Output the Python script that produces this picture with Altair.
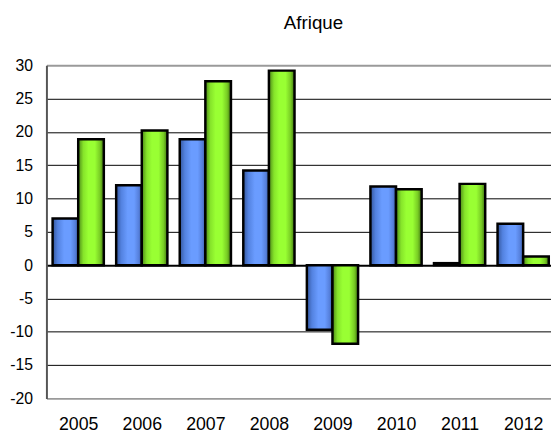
import altair as alt
import pandas as pd

years = [2005, 2006, 2007, 2008, 2009, 2010, 2011, 2012]
blue_vals = [7.0, 12.0, 18.9, 14.2, -9.7, 11.8, 0.3, 6.2]
green_vals = [18.9, 20.2, 27.6, 29.2, -11.8, 11.4, 12.2, 1.3]
y_ticks = [-20, -15, -10, -5, 0, 5, 10, 15, 20, 25, 30]

rows = []
for y, b, g in zip(years, blue_vals, green_vals):
    rows.append({"year": y, "series": "A", "value": b})
    rows.append({"year": y, "series": "B", "value": g})
df = pd.DataFrame(rows)

FONT = "Liberation Sans, Arial"
BAR_W = 0.403  # fraction of the year step taken by one bar

blue_grad = alt.LinearGradient(
    gradient="linear", x1=0, x2=1, y1=0, y2=0,
    stops=[
        alt.GradientStop(color="#34569c", offset=0),
        alt.GradientStop(color="#5382e0", offset=0.2),
        alt.GradientStop(color="#6a9cff", offset=0.45),
        alt.GradientStop(color="#6a9cff", offset=0.7),
        alt.GradientStop(color="#5680dc", offset=0.88),
        alt.GradientStop(color="#3a5ca4", offset=1),
    ],
)
green_grad = alt.LinearGradient(
    gradient="linear", x1=0, x2=1, y1=0, y2=0,
    stops=[
        alt.GradientStop(color="#4c8818", offset=0),
        alt.GradientStop(color="#86e42a", offset=0.2),
        alt.GradientStop(color="#99ff33", offset=0.4),
        alt.GradientStop(color="#99ff33", offset=0.65),
        alt.GradientStop(color="#78cc24", offset=0.85),
        alt.GradientStop(color="#3f7410", offset=1),
    ],
)

x_enc = alt.X(
    "x0:Q", title=None,
    scale=alt.Scale(domain=[2004.5, 2004.5 + 512 / 64.5], nice=False, zero=False, padding=0),
    axis=alt.Axis(values=years, format="d", domain=False, ticks=False, grid=False,
                  labelPadding=18, labelFont=FONT, labelFontSize=18,
                  labelColor="black", labelFlush=False),
)
y_enc = alt.Y(
    "value:Q", title=None,
    scale=alt.Scale(domain=[-20, 30], nice=False, zero=False, padding=0),
    axis=alt.Axis(
        values=y_ticks, ticks=False, labelPadding=14,
        labelExpr="'' + datum.value",
        labelFont=FONT, labelFontSize=16, labelColor="black",
        domainColor="#555555", domainWidth=2,
        gridColor={"condition": {"test": "datum.value == 30 || datum.value == -20", "value": "#9a9a9a"}, "value": "black"},
        gridWidth={"condition": {"test": "datum.value == 0 || datum.value == 30 || datum.value == -20", "value": 2}, "value": 1},
    ),
)

base = alt.Chart(df)
blue = base.transform_filter("datum.series == 'A'").transform_calculate(
    x0=f"datum.year - {BAR_W}", x1="datum.year"
).mark_bar(fill=blue_grad, stroke="black", strokeWidth=2.5, orient="vertical").encode(
    x=x_enc, x2="x1:Q", y=y_enc, y2=alt.datum(0)
)
green = base.transform_filter("datum.series == 'B'").transform_calculate(
    x0="datum.year", x1=f"datum.year + {BAR_W}"
).mark_bar(fill=green_grad, stroke="black", strokeWidth=2.5, orient="vertical").encode(
    x=x_enc, x2="x1:Q", y=y_enc, y2=alt.datum(0)
)

chart = alt.layer(blue, green).properties(
    width=512, height=338,
    autosize=alt.AutoSizeParams(type="none"),
    padding={"left": 39, "top": 55, "right": 0, "bottom": 33},
    title=alt.TitleParams("Afrique", font=FONT, fontSize=19,
                          fontWeight="normal", color="black", dx=15, offset=25),
).configure_view(stroke=None)

chart.save("out.html", embed_options={"renderer": "svg", "actions": False})
